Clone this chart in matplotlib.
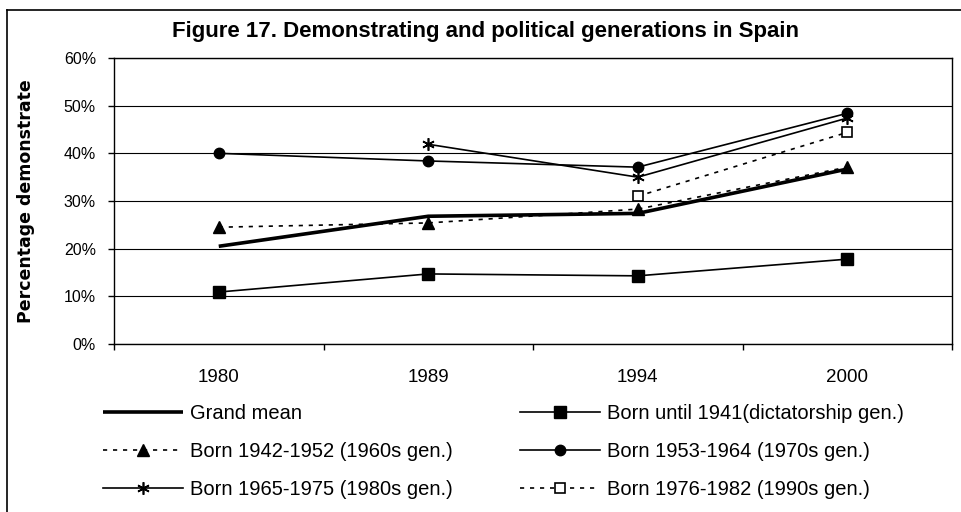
import matplotlib
matplotlib.use('Agg')
import matplotlib.pyplot as plt
from matplotlib.lines import Line2D
import numpy as np

plt.rcParams['font.family'] = ['Liberation Sans', 'DejaVu Sans']

# Data (share of people who demonstrate)
years = ['1980', '1989', '1994', '2000']
grand_mean = [0.205, 0.268, 0.274, 0.367]
born_to_1941 = [0.109, 0.147, 0.143, 0.178]
born_1942_1952 = [0.245, 0.254, 0.283, 0.371]
born_1953_1964 = [0.400, 0.384, 0.371, 0.484]
born_1965_1975 = [np.nan, 0.419, 0.350, 0.474]
born_1976_1982 = [np.nan, np.nan, 0.310, 0.444]

labels = ['Grand mean',
          'Born until 1941(dictatorship gen.)',
          'Born 1942-1952 (1960s gen.)',
          'Born 1953-1964 (1970s gen.)',
          'Born 1965-1975 (1980s gen.)',
          'Born 1976-1982 (1990s gen.)']

fig = plt.figure(figsize=(9.61, 5.12), dpi=100)
ax = fig.add_axes([114 / 961, 1 - 344 / 512, 838 / 961, 286 / 512])

x = np.arange(len(years))
dash = (0, (2.5, 3.5))

l0, = ax.plot(x, grand_mean, color='black', lw=2.6, solid_capstyle='butt')
l1, = ax.plot(x, born_to_1941, color='black', lw=1.2, marker='s', ms=8)
l2, = ax.plot(x, born_1942_1952, color='black', lw=1.2, ls=dash, marker='^', ms=8.5)
l3, = ax.plot(x, born_1953_1964, color='black', lw=1.2, marker='o', ms=7.5)
l4, = ax.plot(x, born_1965_1975, color='black', lw=1.2, marker=(6, 2, 0), ms=9, mew=1.2)
l5, = ax.plot(x, born_1976_1982, color='black', lw=1.2, ls=dash, marker='s', ms=6.5,
              mfc='white', mew=1.2)

ax.set_xlim(-0.5, 3.5)
ax.set_ylim(0, 0.6)
yt = np.arange(0, 0.61, 0.1)
ax.set_yticks(yt)
ax.set_yticklabels([f'{int(round(v * 100))}%' for v in yt])
ax.set_xticks(x)
ax.set_xticklabels(years)
ax.set_xticks(np.arange(-0.5, 3.6, 1), minor=True)
ax.tick_params(axis='x', which='major', length=0, pad=18, labelsize=13.5)
ax.tick_params(axis='x', which='minor', length=4, width=1, direction='out')
ax.tick_params(axis='y', length=4, width=1, pad=9, labelsize=11.5)
ax.grid(axis='y', color='black', lw=0.8)
ax.set_axisbelow(True)
for s in ax.spines.values():
    s.set_linewidth(1)
    s.set_color('black')

fig.text(26 / 961, 1 - 201 / 512, 'Percentage demonstrate',
         rotation=90, ha='center', va='center', fontsize=12.5, fontweight='bold',
         family='DejaVu Sans')
fig.text(0.505, 1 - 31 / 512, 'Figure 17. Demonstrating and political generations in Spain',
         ha='center', va='center', fontsize=16, fontweight='bold')

# legends: two columns of three rows
leg_kw = dict(frameon=False, fontsize=14.5, handlelength=3.97, handletextpad=0.35,
              labelspacing=0.94, borderpad=0, borderaxespad=0, loc='upper left')
leg1 = fig.legend([l0, l2, l4], [labels[0], labels[2], labels[4]],
                  bbox_to_anchor=(103 / 961, 1 - 404 / 512), **leg_kw)
leg2 = fig.legend([l1, l3, l5], [labels[1], labels[3], labels[5]],
                  bbox_to_anchor=(520 / 961, 1 - 404 / 512), **leg_kw)

# outer frame (cropped at right and bottom)
fx = 7 / 961
fy = 1 - 10 / 512
fig.add_artist(Line2D([fx, fx], [0, fy], transform=fig.transFigure, color='black', lw=1.2))
fig.add_artist(Line2D([fx, 1], [fy, fy], transform=fig.transFigure, color='black', lw=1.2))

fig.savefig('out.png', dpi=100)
